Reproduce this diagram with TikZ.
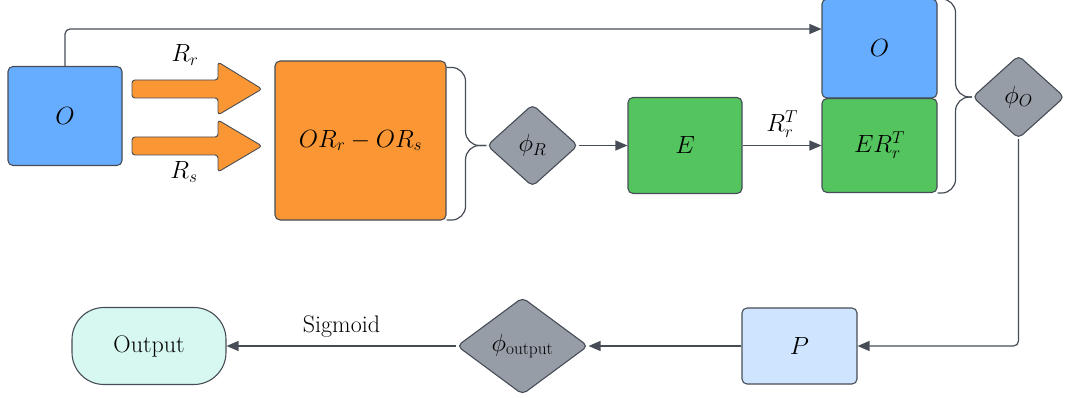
\documentclass[tikz,border=0pt]{standalone}
\usetikzlibrary{shapes.geometric,arrows.meta,calc}
\definecolor{cblue}{HTML}{66ADFF}
\definecolor{corange}{HTML}{FA9633}
\definecolor{cgreen}{HTML}{54C45E}
\definecolor{cgrey}{HTML}{979DA6}
\definecolor{cpale}{HTML}{CFE4FF}
\definecolor{ccyan}{HTML}{D6F8F1}
\definecolor{cline}{HTML}{474D57}
\begin{document}
\begin{tikzpicture}[x=1pt,y=-1pt,
  font=\fontsize{25}{28}\selectfont,
  box/.style={draw=cline, line width=1.1pt, rounded corners=5pt, inner sep=0pt},
  dia/.style={diamond, draw=cline, line width=1.1pt, fill=cgrey, rounded corners=5pt, inner sep=0pt, aspect=1.1},
  conn/.style={draw=cline, line width=1.2pt},
  arr/.style={conn, -{Triangle[length=12pt,width=10pt]}},
  brace/.style={draw=cline, line width=1.2pt, rounded corners=14pt},
  fat/.style={draw=cline, line width=0.9pt, fill=corange, rounded corners=3pt},
  txt/.style={font=\fontsize{24}{28}\selectfont}
]
\useasboundingbox (0,0) rectangle (1065,398);

\node[box, fill=cblue, minimum width=114pt, minimum height=99pt] (O1) at (65,116) {$O$};
\node[box, fill=corange, minimum width=171pt, minimum height=159pt, font=\fontsize{26}{30}\selectfont] (ORS) at (360.5,140.5) {$OR_r-OR_s$};
\node[dia, minimum width=91pt, minimum height=82pt] (phiR) at (532.5,145.5) {$\phi_R$};
\node[box, fill=cgreen, minimum width=114pt, minimum height=96pt] (E) at (685,145.5) {$E$};
\node[box, fill=cblue, minimum width=115pt, minimum height=99pt] (O2) at (879.5,48.5) {$O$};
\node[box, fill=cgreen, minimum width=115pt, minimum height=94pt] (ER) at (879.5,145.5) {$ER_r^T$};
\node[dia, minimum width=92pt, minimum height=83pt] (phiO) at (1018.5,97) {$\phi_O$};
\node[box, fill=cpale, minimum width=115pt, minimum height=76pt] (P) at (799.5,346) {$P$};
\node[dia, minimum width=131pt, minimum height=97pt, font=\fontsize{26}{30}\selectfont] (phiout) at (522.5,346) {$\phi_{\mathrm{output}}$};
\node[draw=cline, line width=1.1pt, fill=ccyan, rounded corners=32pt, minimum width=154pt, minimum height=77pt, inner sep=0pt, txt] (out) at (149,346) {Output};

% fat arrows
\draw[fat] (132,80) -- (218,80) -- (218,62) -- (262,89) -- (218,115) -- (218,98) -- (132,98) -- cycle;
\draw[fat] (132,137) -- (218,137) -- (218,120) -- (262,146) -- (218,172) -- (218,155) -- (132,155) -- cycle;
\node (lRr) at (185,55) {$R_r$};
\node (lRs) at (184,172) {$R_s$};

% top line
\coordinate (tc) at (O1.north |- 0,29);
\draw[arr, rounded corners=5pt] (O1.north) -- (tc) -- (tc -| O2.west);

% braces
\draw[brace] ($(ORS.north east)+(0,7)$) -- ++(19,0) |- (phiR.west);
\draw[brace] ($(ORS.south east)+(0,-0.5)$) -- ++(19,0) |- (phiR.west);
\draw[brace] ($(O2.north east)+(0,0.5)$) -- ++(18,0) |- (phiO.west);
\draw[brace] ($(ER.south east)+(0,0)$) -- ++(18,0) |- (phiO.west);

% connectors
\draw[arr] (phiR.east) -- (E.west);
\draw[arr] (E.east) -- (ER.west) node[midway, above=4pt] (lRT) {$R_r^T$};
\coordinate (dc) at (phiO.south |- P.east);
\draw[arr, rounded corners=5pt] (phiO.south) -- (dc) -- (P.east);
\draw[arr] (P.west) -- (phiout.east);
\draw[arr] (phiout.west) -- (out.east) node[midway, above=5pt, txt] (lsig) {Sigmoid};
\end{tikzpicture}
\end{document}
